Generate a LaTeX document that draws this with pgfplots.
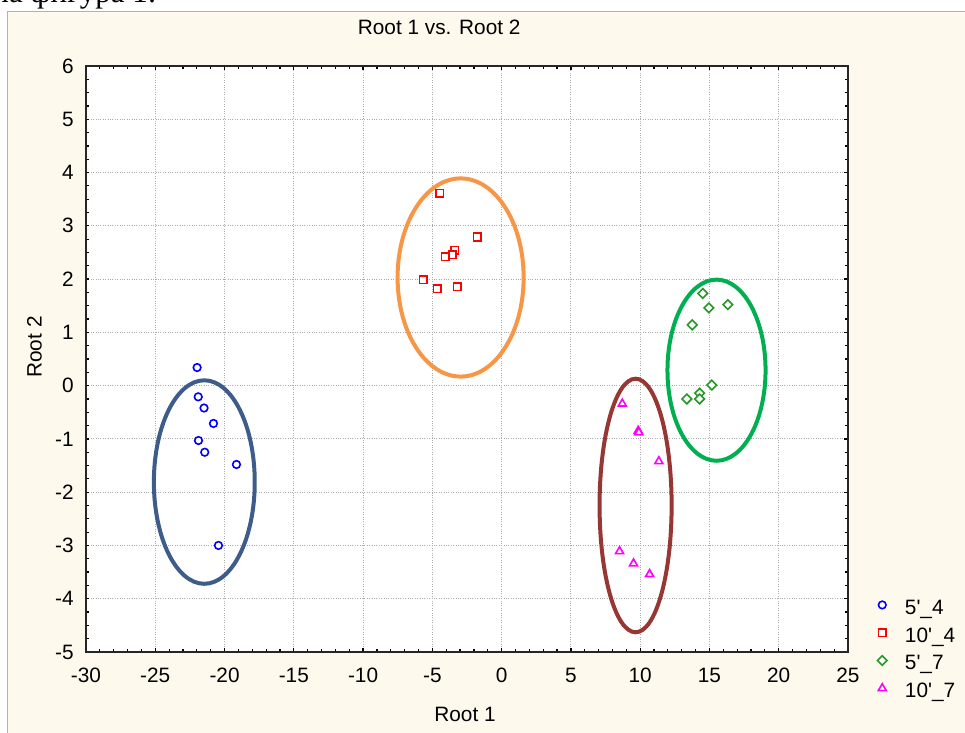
\documentclass[border=0pt]{standalone}
\usepackage{fontspec}
\setmainfont{Liberation Sans}
\newfontfamily\serifcut{Liberation Serif}
\usepackage{pgfplots}
\pgfplotsset{compat=1.18}
\definecolor{panel}{RGB}{254,249,237}
\definecolor{panelborder}{RGB}{155,181,224}
\definecolor{ellblue}{RGB}{62,92,138}
\definecolor{ellorange}{RGB}{247,150,70}
\definecolor{ellgreen}{RGB}{0,176,80}
\definecolor{ellmaroon}{RGB}{150,55,52}
\definecolor{mkgreen}{RGB}{40,150,40}
\definecolor{mkblue}{RGB}{0,0,255}
\definecolor{mkred}{RGB}{255,0,0}
\definecolor{mkmagenta}{RGB}{255,0,255}
\newcommand{\fs}{\fontsize{10.4}{12}\selectfont}
\begin{document}
\begin{tikzpicture}
\useasboundingbox (-43pt,-40.5pt) rectangle ++(482.5pt,366.5pt);
\fill[white] (-43pt,-40.5pt) rectangle ++(482.5pt,366.5pt);
\fill[panel] (-39pt,-45pt) rectangle (445pt,320pt);
\draw[panelborder,line width=0.5pt] (-39pt,-45pt) -- (-39pt,320pt) -- (445pt,320pt);
\begin{scope}
\clip (-43pt,-40.5pt) rectangle ++(482.5pt,366.5pt);
\node[anchor=base east,inner sep=0pt,font=\serifcut\fontsize{15.5}{18}\selectfont] at (35.5pt,324.5pt) {на фигура 1:};
\end{scope}
\begin{axis}[
  at={(0pt,0pt)}, anchor=south west,
  scale only axis, width=381pt, height=293pt,
  xmin=-30, xmax=25, ymin=-5, ymax=6,
  xtick distance=5, ytick distance=1,
  minor x tick num=4, minor y tick num=3,
  tick align=inside,
  major tick length=1.75pt, minor tick length=1.5pt,
  every tick/.style={black,line width=0.6pt},
  axis line style={black!85,line width=1pt},
  axis background/.style={fill=white},
  grid=major,
  major grid style={gray!65,line width=0.5pt,dash pattern=on 0.5pt off 0.7pt},
  /pgf/number format/assume math mode=true,
  tick label style={font=\fs,black},
  xticklabel style={anchor=north,inner sep=0pt,yshift=-8pt},
  yticklabel style={anchor=east,inner sep=0pt,xshift=-6pt},
  title={Root 1 vs. Root 2},
  title style={at={(axis description cs:0.4635,1)},anchor=base,yshift=9.65pt,inner sep=0pt,font=\fs},
  xlabel={Root 1},
  xlabel style={at={(axis description cs:0.4974,0)},anchor=base,yshift=-34.85pt,inner sep=0pt,font=\fs},
  ylabel={Root 2},
  ylabel style={at={(axis description cs:-0.0584,0.5205)},anchor=base,inner sep=0pt,font=\fs},
  legend cell align=left,
  legend image code/.code={\draw[#1] plot coordinates {(3pt,0pt)}; \path[draw=none,fill=none] (0pt,-5pt) rectangle (14.35pt,5pt);},
  legend style={draw=none,fill=none,inner sep=0pt,outer sep=0pt,
    at={(axis description cs:1.0371,0.00913)},anchor=west,
    row sep=3.2pt,
    nodes={inner sep=0pt,text height=10pt,text depth=0.7pt,font=\fs}},
]
\draw[ellblue,line width=2pt] (axis cs:-21.46,-1.81) ellipse [x radius=3.64, y radius=1.91];
\draw[ellorange,line width=2pt] (axis cs:-2.96,2.03) ellipse [x radius=4.55, y radius=1.86];
\draw[ellgreen,line width=2pt] (axis cs:15.51,0.29) ellipse [x radius=3.54, y radius=1.70];
\draw[ellmaroon,line width=2pt] (axis cs:9.67,-2.25) ellipse [x radius=2.6, y radius=2.38];
\addplot[only marks,mark=*,mark size=1.9pt,color=mkblue,mark options={draw=mkblue,fill=white,line width=0.8pt}] coordinates {
(-21.98,0.34) (-21.9,-0.21) (-21.48,-0.42) (-20.8,-0.71) (-21.88,-1.03) (-21.43,-1.25) (-19.14,-1.48) (-20.44,-3.0)};
\addlegendentry{5\textquotesingle\_4}
\addplot[only marks,mark=square*,mark size=1.9pt,color=mkred,mark options={draw=mkred,fill=white,line width=0.8pt}] coordinates {
(-4.46,3.61) (-1.75,2.79) (-3.39,2.54) (-3.56,2.46) (-4.06,2.42) (-5.64,1.99) (-4.64,1.82) (-3.2,1.86)};
\addlegendentry{10\textquotesingle\_4}
\addplot[only marks,mark=square*,mark size=1.7pt,color=mkgreen,mark options={draw=mkgreen,fill=white,line width=0.8pt,rotate=45}] coordinates {
(14.52,1.73) (14.96,1.46) (16.33,1.52) (13.76,1.14) (15.17,0.01) (14.29,-0.14) (13.37,-0.25) (14.29,-0.25)};
\addlegendentry{5\textquotesingle\_7}
\addplot[only marks,mark=triangle*,mark size=2.3pt,color=mkmagenta,mark options={draw=mkmagenta,fill=white,line width=0.8pt}] coordinates {
(8.71,-0.34) (9.86,-0.85) (9.9,-0.88) (11.35,-1.42) (8.51,-3.11) (9.52,-3.34) (10.68,-3.54)};
\addlegendentry{10\textquotesingle\_7}
\end{axis}
\end{tikzpicture}
\end{document}
